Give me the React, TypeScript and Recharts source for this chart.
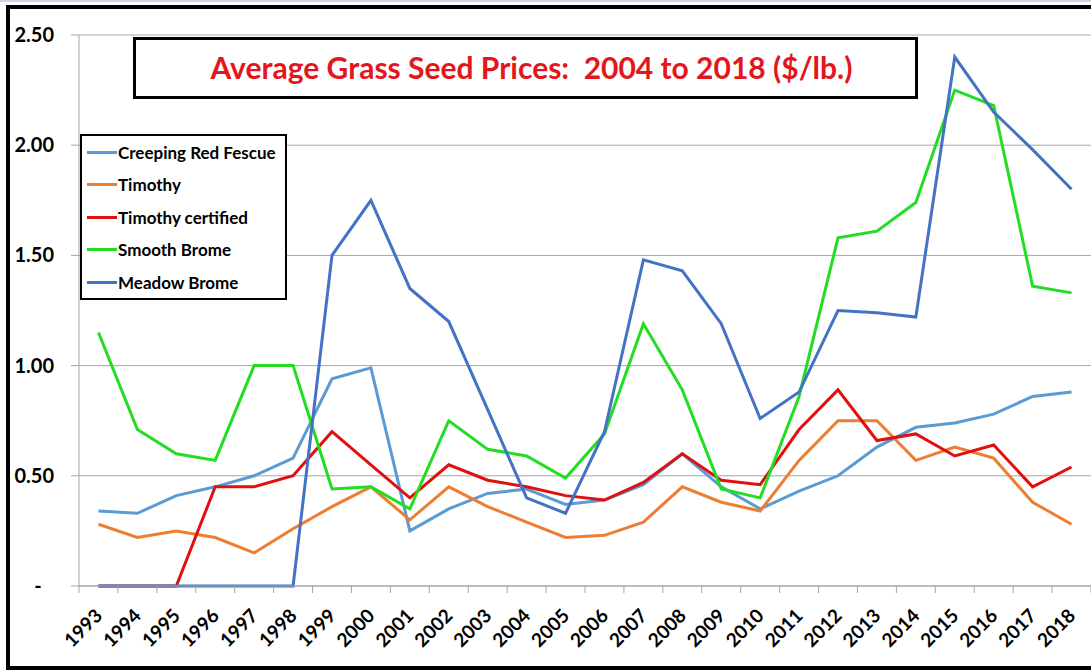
import { LineChart, Line, XAxis, YAxis, CartesianGrid, Legend } from 'recharts';

// grass seed prices, $/lb
const years = [
  '1993', '1994', '1995', '1996', '1997', '1998', '1999', '2000', '2001',
  '2002', '2003', '2004', '2005', '2006', '2007', '2008', '2009', '2010',
  '2011', '2012', '2013', '2014', '2015', '2016', '2017', '2018',
];

const creepingRedFescue = [
  0.34, 0.33, 0.41, 0.45, 0.5, 0.58, 0.94, 0.99, 0.25, 0.35, 0.42, 0.44, 0.37,
  0.39, 0.46, 0.6, 0.45, 0.35, 0.43, 0.5, 0.63, 0.72, 0.74, 0.78, 0.86, 0.88,
];
const timothy = [
  0.28, 0.22, 0.25, 0.22, 0.15, 0.26, 0.36, 0.45, 0.3, 0.45, 0.36, 0.29, 0.22,
  0.23, 0.29, 0.45, 0.38, 0.34, 0.57, 0.75, 0.75, 0.57, 0.63, 0.58, 0.38, 0.28,
];
const timothyCertified = [
  0, 0, 0, 0.45, 0.45, 0.5, 0.7, 0.55, 0.4, 0.55, 0.48, 0.45, 0.41,
  0.39, 0.47, 0.6, 0.48, 0.46, 0.71, 0.89, 0.66, 0.69, 0.59, 0.64, 0.45, 0.54,
];
const smoothBrome = [
  1.15, 0.71, 0.6, 0.57, 1.0, 1.0, 0.44, 0.45, 0.35, 0.75, 0.62, 0.59, 0.49,
  0.69, 1.19, 0.89, 0.44, 0.4, 0.86, 1.58, 1.61, 1.74, 2.25, 2.18, 1.36, 1.33,
];
const meadowBrome = [
  0, 0, 0, 0, 0, 0, 1.5, 1.75, 1.35, 1.2, 0.8, 0.4, 0.33,
  0.7, 1.48, 1.43, 1.19, 0.76, 0.88, 1.25, 1.24, 1.22, 2.4, 2.15, 1.98, 1.8,
];

const yTicks = [0, 0.5, 1, 1.5, 2, 2.5];

const series = [
  { key: 'fescue', name: 'Creeping Red Fescue', color: '#5b9bd5', values: creepingRedFescue },
  { key: 'timothy', name: 'Timothy', color: '#ed7d31', values: timothy },
  { key: 'timothyCert', name: 'Timothy certified', color: '#e01010', values: timothyCertified },
  { key: 'smooth', name: 'Smooth Brome', color: '#22dd22', values: smoothBrome },
  { key: 'meadow', name: 'Meadow Brome', color: '#4472c4', values: meadowBrome },
];

const chartData = years.map((year, i) => {
  const row: Record<string, string | number> = { year };
  series.forEach((s) => {
    row[s.key] = s.values[i];
  });
  return row;
});

const W = 1091;
const H = 671;
const AXIS_W = 79;
const BAND = (W - AXIS_W) / years.length;
const FONT = 'Lato, "Noto Sans", sans-serif';

function YearTick({ x, y, payload, index }: any) {
  const left = x - BAND / 2;
  const right = x + BAND / 2;
  const tx = x + 5;
  const ty = y + 31;
  return (
    <g>
      <line x1={left} x2={left} y1={y} y2={y + 7} stroke="#a6a6a6" />
      {index === years.length - 1 && (
        <line x1={right} x2={right} y1={y} y2={y + 7} stroke="#a6a6a6" />
      )}
      <text
        x={tx}
        y={ty}
        transform={`rotate(-45 ${tx} ${ty})`}
        textAnchor="end"
        fontFamily={FONT}
        fontWeight={700}
        fontSize={19}
        fill="#000"
      >
        {payload.value}
      </text>
    </g>
  );
}

function PriceTick({ x, y, payload }: any) {
  const zero = payload.value === 0;
  return (
    <text
      x={zero ? x - 33 : x - 17}
      y={y}
      dy={7}
      textAnchor={zero ? 'middle' : 'end'}
      fontFamily={FONT}
      fontWeight={700}
      fontSize={20}
      fill="#000"
    >
      {zero ? '-' : payload.value.toFixed(2)}
    </text>
  );
}

function LegendBox({ payload }: any) {
  const order = series.map((s) => s.name);
  const items = [...(payload || [])].sort(
    (a: any, b: any) => order.indexOf(a.value) - order.indexOf(b.value),
  );
  return (
    <div
      style={{
        width: 207,
        height: 166,
        boxSizing: 'border-box',
        border: '2px solid #000',
        background: '#fff',
      }}
    >
      {items.map((item: any) => (
        <div key={item.value} style={{ display: 'flex', alignItems: 'center', height: 32.5 }}>
          <span
            style={{ display: 'inline-block', marginLeft: 5, width: 30, height: 3, background: item.color }}
          />
          <span
            style={{ marginLeft: 1, fontFamily: FONT, fontWeight: 700, fontSize: 17, color: '#000' }}
          >
            {item.value}
          </span>
        </div>
      ))}
    </div>
  );
}

export default function App() {
  return (
    <div
      style={{
        position: 'absolute',
        left: 0,
        top: 0,
        width: W,
        height: H,
        background: '#fff',
        overflow: 'hidden',
      }}
    >
      <div style={{ position: 'absolute', left: 0, top: 0, width: W, height: 2, background: '#c9d3e3' }} />
      <div
        style={{
          position: 'absolute',
          left: 6,
          top: 5,
          width: 1200,
          height: 665,
          boxSizing: 'border-box',
          border: '4px solid #000',
        }}
      />
      <div style={{ position: 'absolute', left: 0, top: 0 }}>
        <LineChart width={W} height={H} data={chartData} margin={{ top: 35, right: 0, bottom: 0, left: 0 }}>
          <CartesianGrid vertical={false} stroke="#a6a6a6" />
          <XAxis
            dataKey="year"
            scale="band"
            interval={0}
            height={85}
            tickLine={false}
            tickSize={0}
            tickMargin={0}
            axisLine={{ stroke: '#a6a6a6' }}
            tick={<YearTick />}
          />
          <YAxis
            width={AXIS_W}
            domain={[0, 2.5]}
            ticks={yTicks}
            tickSize={8}
            tickMargin={0}
            tickLine={{ stroke: '#a6a6a6' }}
            axisLine={{ stroke: '#a6a6a6' }}
            tick={<PriceTick />}
          />
          <Legend
            layout="vertical"
            align="center"
            verticalAlign="middle"
            content={<LegendBox />}
            wrapperStyle={{ position: 'absolute', left: 80, top: 134, width: 207, height: 166 }}
          />
          {series.map((s) => (
            <Line
              key={s.key}
              type="linear"
              dataKey={s.key}
              name={s.name}
              stroke={s.color}
              strokeWidth={3}
              dot={false}
              activeDot={false}
              isAnimationActive={false}
            />
          ))}
        </LineChart>
      </div>
      <div
        style={{
          position: 'absolute',
          left: 133,
          top: 37,
          width: 785,
          height: 62,
          boxSizing: 'border-box',
          border: '3px solid #000',
          background: '#fff',
          display: 'flex',
          alignItems: 'center',
          justifyContent: 'center',
          paddingLeft: 12,
          paddingBottom: 3,
          fontFamily: FONT,
          fontWeight: 700,
          fontSize: 30,
          color: '#e3161d',
          whiteSpace: 'pre',
        }}
      >
        {'Average Grass Seed Prices:  2004 to 2018 ($/lb.)'}
      </div>
    </div>
  );
}
